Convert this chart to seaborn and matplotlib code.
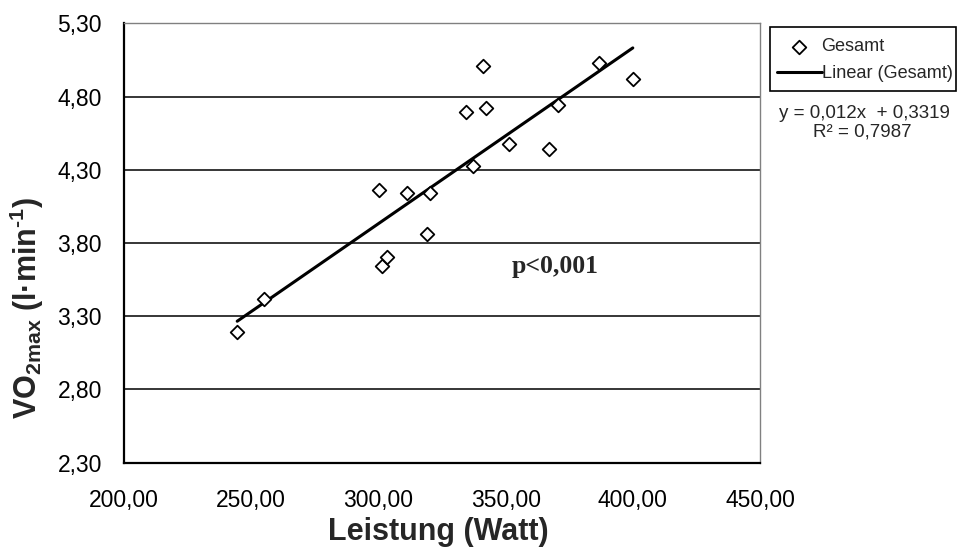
import numpy as np
import matplotlib
matplotlib.use('Agg')
import matplotlib.pyplot as plt
import seaborn as sns
from matplotlib.ticker import FuncFormatter
from matplotlib.patches import Rectangle

# Leistung (Watt) vs. VO2max (l/min)
leistung = [244.5, 255.1, 300.4, 301.3, 303.5, 311.4, 320.3, 319.2, 334.3,
            341.2, 342.3, 337.3, 351.3, 367.2, 370.5, 386.8, 400.0]
vo2max = [3.195, 3.416, 4.162, 3.643, 3.703, 4.140, 4.140, 3.860, 4.697,
          5.009, 4.720, 4.326, 4.474, 4.440, 4.742, 5.027, 4.918]

# linear trend as printed on the chart
slope = 0.012
intercept = 0.3319
r2 = 0.7987

x_ticks = [200, 250, 300, 350, 400, 450]
y_ticks = [2.30, 2.80, 3.30, 3.80, 4.30, 4.80, 5.30]

sns.set_style('white')
plt.rcParams['font.family'] = ['Liberation Sans', 'DejaVu Sans']
plt.rcParams['mathtext.fontset'] = 'custom'
plt.rcParams['mathtext.rm'] = 'Liberation Sans'
plt.rcParams['mathtext.bf'] = 'Liberation Sans:bold'

fig = plt.figure(figsize=(9.61, 5.59), dpi=100)
ax = fig.add_axes([124/961, 1-462.7/559, 636/961, 439.4/559])

trend_x = np.array([min(leistung), max(leistung)])
trend_y = slope*trend_x + intercept
sns.lineplot(x=trend_x, y=trend_y, color='black', lw=2.2, ax=ax,
             label='Linear (Gesamt)', legend=False, zorder=2)
sns.scatterplot(x=leistung, y=vo2max, marker='D', s=48, color='white',
                edgecolor='black', linewidth=1.3, ax=ax, label='Gesamt',
                legend=False, zorder=3)
if ax.get_legend():
    ax.get_legend().remove()

ax.set_xlim(200, 450)
ax.set_ylim(2.30, 5.30)
ax.set_xticks(x_ticks)
ax.set_yticks(y_ticks)
fmt = FuncFormatter(lambda v, p: f'{v:.2f}'.replace('.', ','))
ax.xaxis.set_major_formatter(fmt)
ax.yaxis.set_major_formatter(fmt)

ax.yaxis.grid(True, color='black', lw=1.1)
ax.xaxis.grid(False)
ax.get_ygridlines()[-1].set_visible(False)

for s in ['top', 'right']:
    ax.spines[s].set_color('#808080')
    ax.spines[s].set_linewidth(1.0)
for s in ['left', 'bottom']:
    ax.spines[s].set_color('black')
    ax.spines[s].set_linewidth(1.6)

ax.tick_params(axis='both', direction='out', length=5, width=1.2,
               color='black', labelsize=16.5, labelcolor='black')
ax.tick_params(axis='y', pad=11)
ax.tick_params(axis='x', pad=14)

ax.set_xlabel('Leistung (Watt)', fontsize=22, fontweight='bold')
ax.set_ylabel('VO$_\\mathbf{2max}$ (l·min$^\\mathbf{\u20101}$)', fontsize=22,
              fontweight='bold')
ax.xaxis.set_label_coords(0.494, -0.1236)
ax.yaxis.set_label_coords(-0.122, 0.353)

ax.text(369.6, 3.64, 'p<0,001', family='Liberation Serif', weight='bold',
        fontsize=18.5, ha='center', va='center')

# legend box
handles, labels = ax.get_legend_handles_labels()
order = [labels.index('Gesamt'), labels.index('Linear (Gesamt)')]
fig.legend([handles[i] for i in order], [labels[i] for i in order],
           loc='upper left', bbox_to_anchor=(777/961, 1-38.3/559),
           frameon=False, fontsize=13.1, handlelength=2.45,
           handletextpad=0.0, labelspacing=0.53, borderpad=0,
           borderaxespad=0)
fig.patches.append(Rectangle((770/961, 1-90.7/559), 186/961, 64/559,
                             transform=fig.transFigure, fill=False,
                             ec='black', lw=1.2))

eq1 = f'y = {slope:.3f}x  + {intercept:.4f}'.replace('.', ',')
eq2 = f'R² = {r2:.4f}'.replace('.', ',')
fig.text(864/961, 1-113/559, eq1, ha='center', va='center', fontsize=13.5)
fig.text(862/961, 1-132/559, eq2, ha='center', va='center', fontsize=13.5)

fig.savefig('out.png', dpi=100)
